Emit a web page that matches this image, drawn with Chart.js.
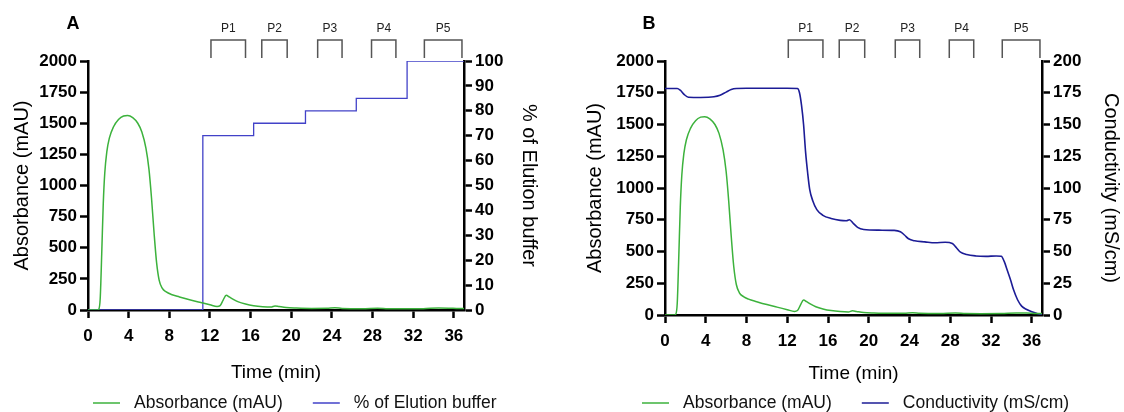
<!DOCTYPE html>
<html>
<head>
<meta charset="utf-8">
<script src="https://cdn.jsdelivr.net/npm/chart.js@4.4.1/dist/chart.umd.min.js"></script>
<style>
  html, body { margin: 0; padding: 0; background: #fff; }
  #wrap { position: relative; width: 1124px; height: 412px; overflow: hidden; }
  .panel { position: absolute; top: 0; height: 412px; }
</style>
</head>
<body>
<div id="wrap">
  <div class="panel" style="left:0;width:562px"><canvas id="chartA" width="562" height="412"></canvas></div>
  <div class="panel" style="left:562px;width:562px"><canvas id="chartB" width="562" height="412"></canvas></div>
</div>
<script>
// ---------------- DATA ----------------
const timeAbs = [0, 0.9, 1.05, 1.2, 1.35, 1.5, 1.65, 1.85, 2.1, 2.5, 3.0, 3.5, 3.9, 4.4, 4.9, 5.3, 5.7, 6.0, 6.25, 6.5, 6.75, 7.0, 7.3, 7.7, 8.2, 9.0, 10.0, 11.0, 12.0, 12.7, 13.0, 13.3, 13.6, 13.9, 14.3, 14.8, 15.5, 16.3, 17.2, 18.0, 18.4, 18.8, 19.5, 20.5, 22, 23.5, 24.3, 25, 27, 28.5, 29.5, 31, 33, 34.5, 35.5, 36.5, 37];
const absorbance = [0, 0, 5, 90, 450, 850, 1100, 1270, 1380, 1470, 1530, 1558, 1562, 1545, 1500, 1430, 1300, 1130, 900, 620, 380, 240, 175, 145, 125, 105, 82, 62, 42, 28, 35, 80, 118, 105, 85, 65, 48, 35, 27, 24, 33, 28, 20, 16, 13, 14, 18, 13, 11, 15, 11, 10, 11, 16, 15, 12, 12];

const timeBuffer = [0, 11.3, 16.3, 21.4, 26.4, 31.4, 37];
const elutionBuffer = [0, 70, 75, 80, 85, 100, 100];

const timeCond = [0, 1.2, 1.5, 1.9, 2.3, 3.5, 4.8, 5.4, 6.0, 6.5, 7.0, 8, 10, 12, 13.0, 13.2, 13.4, 13.6, 13.8, 14.0, 14.2, 14.5, 14.9, 15.5, 16.3, 17.2, 17.8, 18.1, 18.5, 18.9, 19.5, 21, 22.5, 23.1, 23.5, 23.9, 24.5, 25.5, 26.5, 27.5, 28.2, 28.6, 29.0, 29.6, 30.5, 31.5, 32.5, 33.0, 33.3, 33.6, 33.9, 34.2, 34.6, 35.0, 35.5, 36.0, 36.5, 37];
const conductivity = [178.4, 178.4, 177, 173.5, 171.5, 171.3, 171.8, 173, 175.5, 177.5, 178.3, 178.5, 178.5, 178.5, 178.3, 175, 165, 150, 128, 112, 99, 90, 83, 78.5, 76, 74.5, 74.2, 75, 72, 69, 67.3, 66.8, 66.6, 65.5, 63, 60, 58.4, 57.6, 56.9, 57.3, 56.3, 53, 49.5, 47.6, 46.5, 46.2, 46.5, 46.3, 42, 35, 28, 20, 12, 7, 4.3, 2.5, 1.2, 0];

const fractionLabels = ['P1', 'P2', 'P3', 'P4', 'P5'];
const fractionStart = [12.1, 17.1, 22.6, 27.9, 33.1];
const fractionEnd = [15.5, 19.6, 25.0, 30.3, 36.8];

const xTickStep = 4;          // 0,4,...,36
const absTickStep = 250;      // 0..2000
const bufferTickStep = 10;    // 0..100
const condTickStep = 25;      // 0..200

// ---------------- STYLE ----------------
const FONT = '"Liberation Sans", Arial, Helvetica, sans-serif';
const GREEN = 'rgb(60,178,60)';
const BLUE_A = 'rgb(66,66,200)';
const BLUE_B = 'rgb(28,28,150)';

const pts = (xs, ys) => xs.map((x, i) => ({x: x, y: ys[i]}));

const annotPlugin = {
  id: 'annot',
  afterDraw(chart, args, o) {
    const ctx = chart.ctx;
    const xs = chart.scales.x;
    const top = chart.chartArea.top;
    ctx.save();
    // panel letter
    ctx.fillStyle = '#000';
    ctx.font = 'bold 18px ' + FONT;
    ctx.textAlign = 'center';
    ctx.textBaseline = 'middle';
    ctx.fillText(o.letter, o.letterX, 24);
    // fraction brackets
    ctx.strokeStyle = '#555';
    ctx.lineWidth = 1.5;
    ctx.font = '12px "Liberation Sans Narrow", ' + FONT;
    ctx.fillStyle = '#222';
    fractionLabels.forEach((lab, i) => {
      const x1 = xs.getPixelForValue(fractionStart[i]);
      const x2 = xs.getPixelForValue(fractionEnd[i]);
      ctx.beginPath();
      ctx.moveTo(x1, top - 3);
      ctx.lineTo(x1, top - 21);
      ctx.lineTo(x2, top - 21);
      ctx.lineTo(x2, top - 3);
      ctx.stroke();
      ctx.fillText(lab, (x1 + x2) / 2, top - 32);
    });
    // legend
    ctx.font = '17.5px ' + FONT;
    ctx.textAlign = 'left';
    let lx = o.legendX;
    const ly = o.legendY;
    chart.data.datasets.forEach((ds) => {
      ctx.strokeStyle = ds.borderColor;
      ctx.lineWidth = 1.5;
      ctx.beginPath();
      ctx.moveTo(lx, ly);
      ctx.lineTo(lx + 27, ly);
      ctx.stroke();
      lx += 27 + 14;
      ctx.fillStyle = '#111';
      ctx.fillText(ds.label, lx, ly);
      lx += ctx.measureText(ds.label).width + 30;
    });
    ctx.restore();
  }
};

function axisCommon() {
  return {
    grid: { display: true, drawOnChartArea: false, drawTicks: true, tickLength: 8, tickWidth: 2.5, tickColor: '#000' },
    border: { display: true, color: '#000', width: 2.5 },
    ticks: { color: '#000', font: { family: FONT, size: 17, weight: 'bold' }, padding: 3, callback: (v) => String(v) }
  };
}

function makeChart(id, cfg) {
  const xAxis = axisCommon();
  xAxis.type = 'linear';
  xAxis.position = 'bottom';
  xAxis.min = 0; xAxis.max = 37;
  xAxis.ticks.stepSize = xTickStep;
  xAxis.ticks.includeBounds = false;
  xAxis.ticks.padding = 8;
  xAxis.title = { display: true, text: 'Time (min)', color: '#000', font: { family: FONT, size: 19 }, padding: { top: 0, bottom: cfg.xTitlePad } };
  xAxis.afterFit = (s) => { s.height = cfg.xHeight; };

  const yAxis = axisCommon();
  yAxis.position = 'left';
  yAxis.min = 0; yAxis.max = 2000;
  yAxis.ticks.stepSize = absTickStep;
  yAxis.title = { display: true, text: 'Absorbance (mAU)', color: '#000', font: { family: FONT, size: 20 }, padding: { top: cfg.yTitlePad, bottom: 0 } };
  yAxis.afterFit = (s) => { s.width = cfg.yWidth; };

  const y2Axis = axisCommon();
  y2Axis.position = 'right';
  y2Axis.min = 0; y2Axis.max = cfg.y2Max;
  y2Axis.ticks.stepSize = cfg.y2Step;
  y2Axis.title = { display: true, text: cfg.y2Title, color: '#000', font: { family: FONT, size: 20 }, padding: { top: cfg.y2TitlePad, bottom: 0 } };
  y2Axis.afterFit = (s) => { s.width = cfg.y2Width; };

  return new Chart(document.getElementById(id), {
    type: 'line',
    data: {
      datasets: [
        { label: 'Absorbance (mAU)', data: pts(timeAbs, absorbance), yAxisID: 'y', borderColor: GREEN, borderWidth: 1.5, pointRadius: 0, cubicInterpolationMode: 'monotone', fill: false },
        cfg.second
      ]
    },
    options: {
      responsive: false,
      animation: false,
      devicePixelRatio: 1,
      layout: { padding: { top: 61, left: 0, right: 0, bottom: 0 } },
      plugins: {
        legend: { display: false },
        tooltip: { enabled: false },
        annot: { letter: cfg.letter, letterX: cfg.letterX, legendX: cfg.legendX, legendY: 403 }
      },
      scales: { x: xAxis, y: yAxis, y2: y2Axis }
    },
    plugins: [annotPlugin]
  });
}

makeChart('chartA', {
  letter: 'A', letterX: 73, legendX: 93,
  xHeight: 412 - 310, xTitlePad: 28,
  yWidth: 88, yTitlePad: 10,
  y2Width: 562 - 464, y2Max: 100, y2Step: bufferTickStep, y2Title: '% of Elution buffer', y2TitlePad: 21,
  second: { label: '% of Elution buffer', data: pts(timeBuffer, elutionBuffer), yAxisID: 'y2', borderColor: BLUE_A, borderWidth: 1.3, pointRadius: 0, stepped: 'before', fill: false }
});

makeChart('chartB', {
  letter: 'B', letterX: 87, legendX: 80,
  xHeight: 412 - 315, xTitlePad: 27,
  yWidth: 103, yTitlePad: 21,
  y2Width: 562 - 480, y2Max: 200, y2Step: condTickStep, y2Title: 'Conductivity (mS/cm)', y2TitlePad: 1,
  second: { label: 'Conductivity (mS/cm)', data: pts(timeCond, conductivity), yAxisID: 'y2', borderColor: BLUE_B, borderWidth: 1.6, pointRadius: 0, cubicInterpolationMode: 'monotone', fill: false }
});
</script>
</body>
</html>
